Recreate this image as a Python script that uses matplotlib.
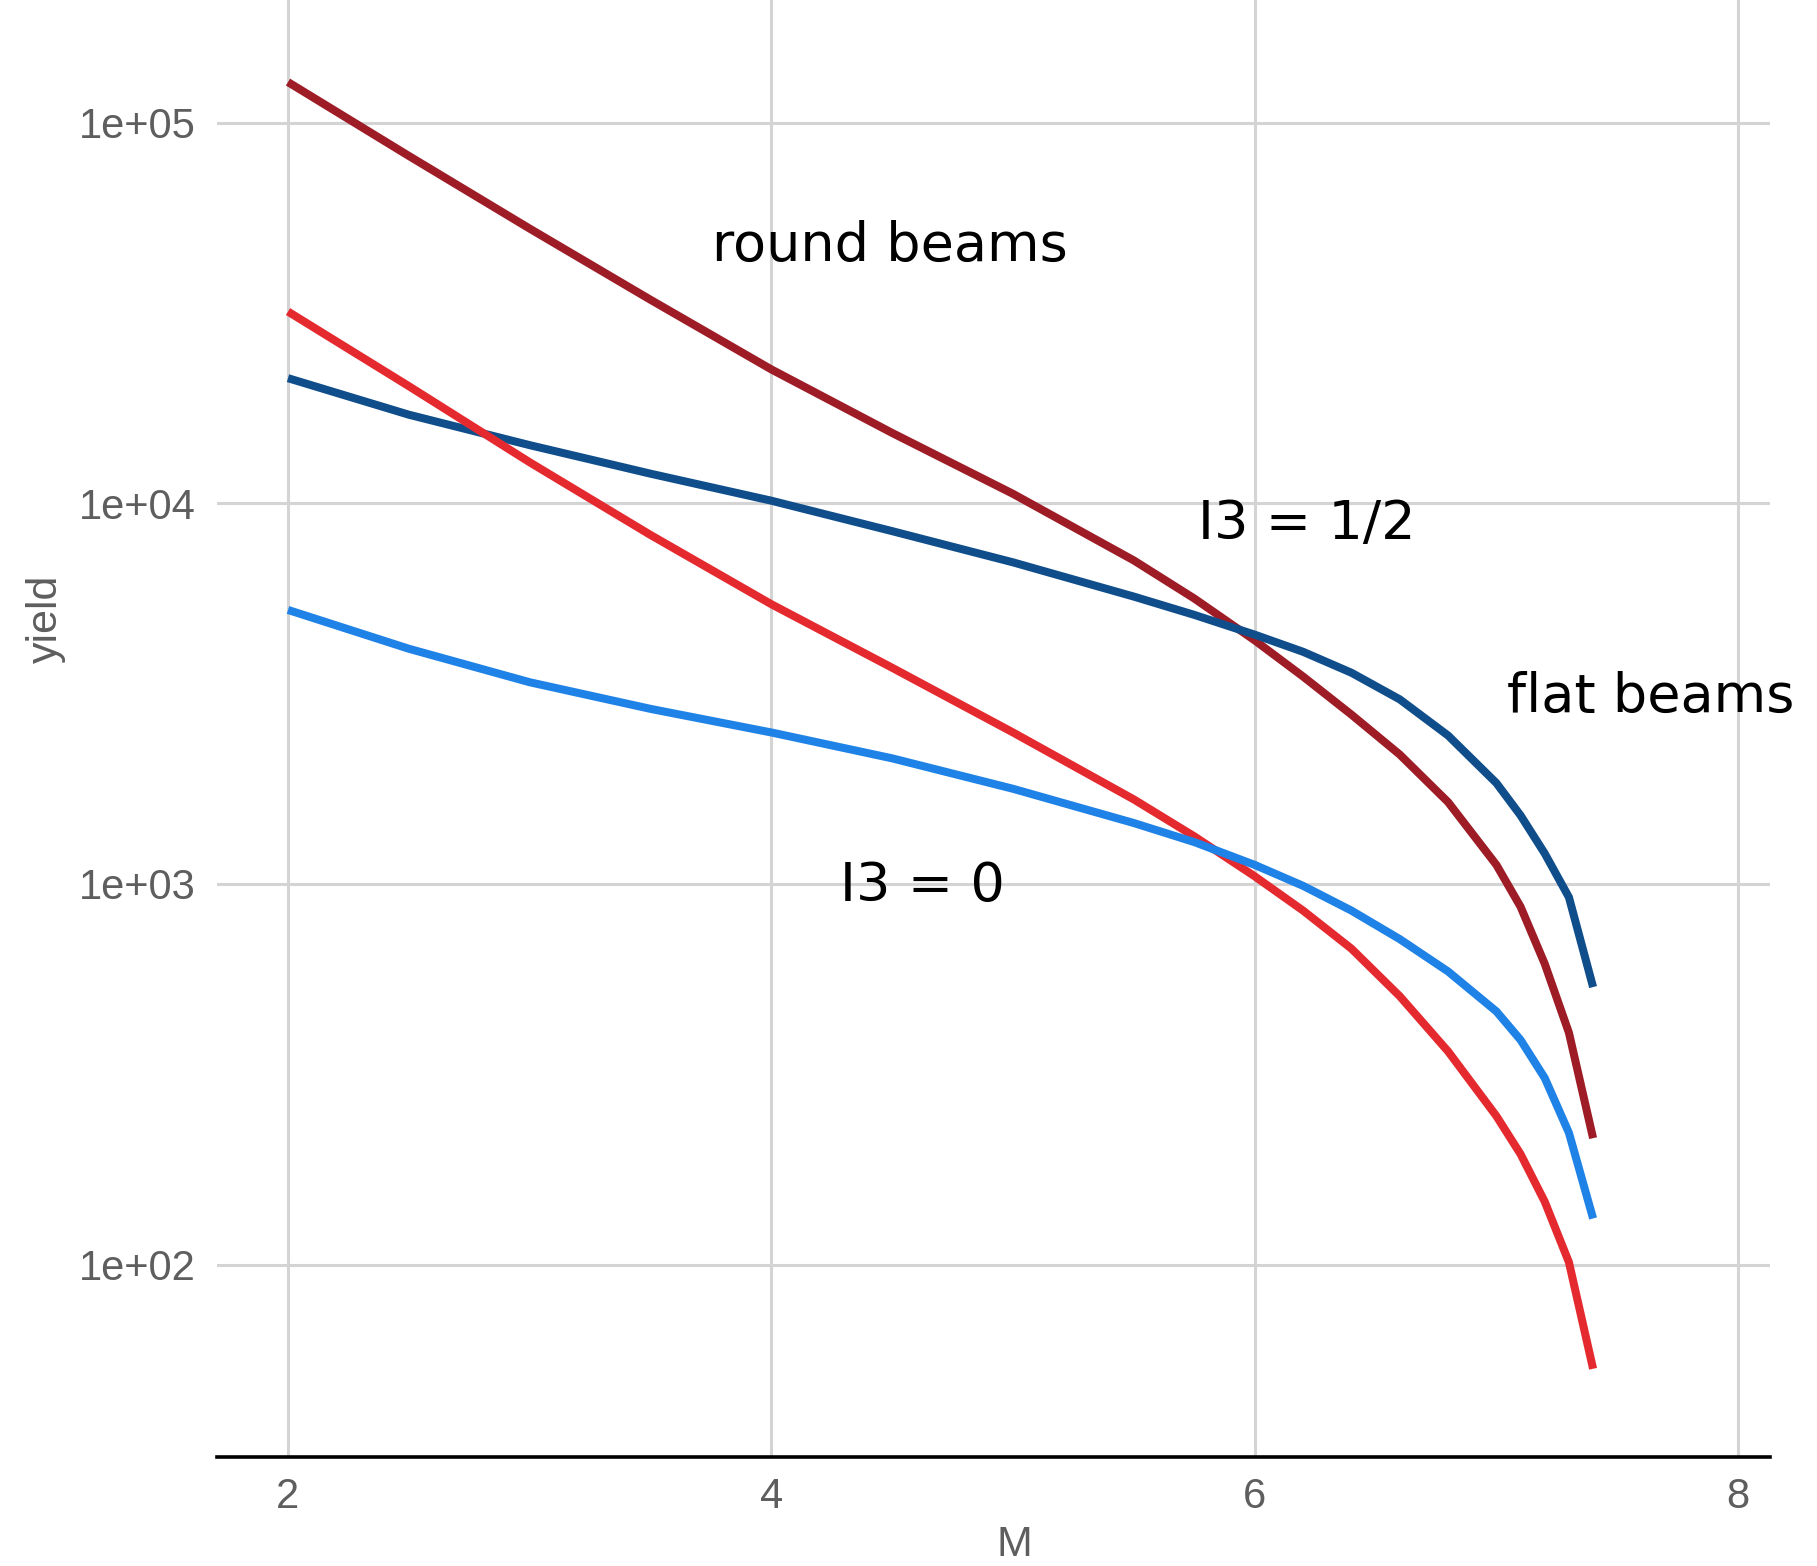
import matplotlib
matplotlib.use('Agg')
from matplotlib import pyplot as plt
from matplotlib.ticker import FixedLocator, FuncFormatter

M = [2, 2.5, 3, 3.5, 4, 4.5, 5, 5.5, 5.75, 6, 6.2, 6.4, 6.6, 6.8,
     7, 7.1, 7.2, 7.3, 7.4]

# yields (given as log10 for readability)
round_half_log = [5.107, 4.913, 4.722, 4.535, 4.352, 4.185, 4.025, 3.85, 3.75,
                  3.64, 3.545, 3.445, 3.34, 3.215, 3.05, 2.94, 2.79, 2.609, 2.332]
flat_half_log = [4.329, 4.233, 4.153, 4.078, 4.007, 3.927, 3.845, 3.755, 3.707,
                 3.655, 3.61, 3.555, 3.485, 3.39, 3.265, 3.18, 3.08, 2.965, 2.729]
round_zero_log = [4.504, 4.308, 4.108, 3.917, 3.735, 3.568, 3.398, 3.222, 3.125,
                  3.02, 2.93, 2.83, 2.705, 2.56, 2.39, 2.29, 2.165, 2.006, 1.726]
flat_zero_log = [3.72, 3.618, 3.53, 3.46, 3.398, 3.33, 3.25, 3.16, 3.11,
                 3.05, 2.995, 2.93, 2.855, 2.77, 2.665, 2.59, 2.49, 2.346, 2.121]

x_ticks = [2, 4, 6, 8]
y_ticks = [1e2, 1e3, 1e4, 1e5]

# (text, M, log10 yield) placed at left/baseline
notes = [('round beams', 3.756, 4.637),
         ('I3 = 1/2', 5.765, 3.906),
         ('flat beams', 7.042, 3.453),
         ('I3 = 0', 4.283, 2.955)]

W, H = 1817, 1566
fig = plt.figure(figsize=(W / 100, H / 100), dpi=100)
ax = fig.add_axes([216.7 / W, 1 - 1456.5 / H, (1770 - 216.7) / W, 1456.5 / H])

series = [(round_half_log, '#9e1c26'),
          (flat_half_log, '#104E8B'),
          (round_zero_log, '#e52a2f'),
          (flat_zero_log, '#1f82e6')]
for logs, col in series:
    ax.plot(M, [10 ** v for v in logs], color=col, lw=5.8,
            solid_capstyle='butt', solid_joinstyle='round', zorder=3)

ax.set_yscale('log')
ax.set_xlim(1.705, 8.132)
ax.set_ylim(10 ** 1.4955, 10 ** 5.3227)
ax.xaxis.set_major_locator(FixedLocator(x_ticks))
ax.yaxis.set_major_locator(FixedLocator(y_ticks))
ax.yaxis.set_minor_locator(FixedLocator([]))
ax.yaxis.set_major_formatter(FuncFormatter(lambda v, p: f'{v:.0e}'))
ax.xaxis.set_major_formatter(FuncFormatter(lambda v, p: f'{v:g}'))

ax.grid(True, color='#d4d4d4', lw=2.2)
ax.set_axisbelow(True)
for side in ['top', 'right', 'left']:
    ax.spines[side].set_visible(False)
ax.spines['bottom'].set_color('black')
ax.spines['bottom'].set_linewidth(2.6)
ax.spines['bottom'].set_zorder(4)

ax.tick_params(length=0, pad=15, labelsize=30, labelcolor='#5e5e5e')
for lab in ax.get_xticklabels() + ax.get_yticklabels():
    lab.set_family('Liberation Sans')

for txt, mx, my in notes:
    ax.text(mx, 10 ** my, txt, fontsize=39, family='DejaVu Sans', color='black',
            ha='left', va='baseline', zorder=5, clip_on=False)

fig.text(1014 / W, 1 - 1545 / H, 'M', fontsize=31, family='Liberation Sans',
         color='#5e5e5e', ha='center', va='center')
fig.text(46 / W, 1 - 619 / H, 'yield', fontsize=31, family='Liberation Sans',
         color='#5e5e5e', ha='center', va='center', rotation=90)

fig.savefig('out.png', dpi=100)
